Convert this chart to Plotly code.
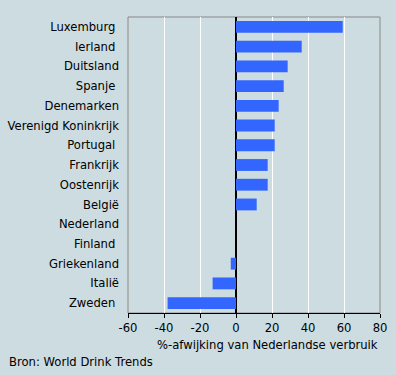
import plotly.graph_objects as go

countries = ["Luxemburg", "Ierland", "Duitsland", "Spanje", "Denemarken",
             "Verenigd Koninkrijk", "Portugal", "Frankrijk", "Oostenrijk",
             "België", "Nederland", "Finland", "Griekenland", "Italië", "Zweden"]
values = [59.3, 36.5, 28.7, 26.5, 23.7, 21.5, 21.5, 17.6, 17.6, 11.5,
          0, 0, -2.9, -13, -38]
tick_vals = [-60, -40, -20, 0, 20, 40, 60, 80]
tick_text = ["-60", "-40", "-20", "0", "20", "40", "60", "80"]
# the original labels for these names carry a trailing space
padded = {"Luxemburg", "Ierland", "Spanje", "Portugal", "Finland", "Zweden"}
y_labels = [c + "\u00a0" if c in padded else c for c in countries]
x_title = "%-afwijking van Nederlandse verbruik"
source = "Bron: World Drink Trends"

BG = "#cddce1"
FONT = dict(family="DejaVu Sans, Verdana, sans-serif", size=11.6, color="black")

fig = go.Figure(go.Bar(
    x=values, y=countries, orientation="h",
    marker=dict(color="#3366ff", line=dict(width=0)),
    width=0.6,
))

fig.update_layout(
    width=396, height=375,
    margin=dict(l=128, r=16, t=17, b=62, autoexpand=False),
    paper_bgcolor=BG, plot_bgcolor=BG,
    font=FONT, showlegend=False,
    xaxis=dict(range=[-60, 80], tickvals=tick_vals, ticktext=tick_text,
               showgrid=True, gridcolor="white", gridwidth=1,
               zeroline=True, zerolinecolor="black", zerolinewidth=1.5,
               showline=True, linecolor="black", linewidth=1,
               ticks="outside", ticklen=4, tickcolor="black",
               tickfont=FONT, fixedrange=True, automargin=False),
    yaxis=dict(categoryorder="array", categoryarray=countries,
               tickvals=countries, ticktext=y_labels,
               showgrid=False, ticks="", automargin=False,
               ticklabelstandoff=8, tickfont=FONT, showline=False,
               range=[14.5, -0.5]),
    shapes=[dict(type="rect", xref="paper", yref="paper", x0=0, x1=1, y0=0, y1=1,
                 line=dict(color="#888888", width=1), layer="below")],
    annotations=[
        dict(text=x_title, xref="paper", yref="paper", x=1, y=0,
             xanchor="right", yanchor="top", yshift=-23, showarrow=False, font=FONT),
        dict(text=source, xref="paper", yref="paper", x=0, y=0,
             xanchor="left", yanchor="top", xshift=-121, yshift=-40,
             showarrow=False, font=FONT),
    ],
)

fig.write_html("out.html",
               config={"displayModeBar": False},
               post_script="document.body.style.margin='0';document.body.style.overflow='hidden';")
